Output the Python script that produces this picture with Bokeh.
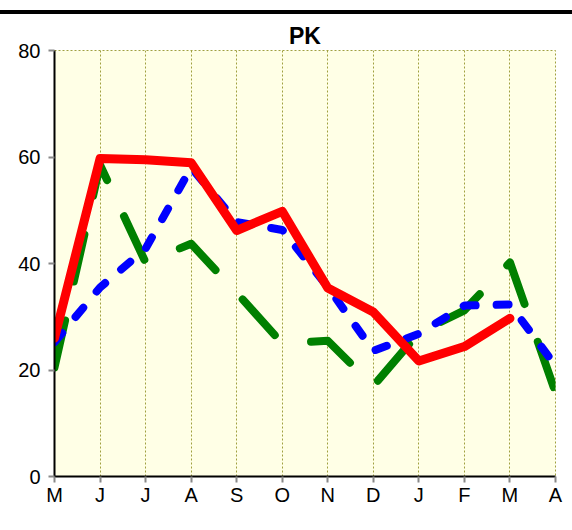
from bokeh.plotting import figure
from bokeh.layouts import column
from bokeh.models import Div, FixedTicker, Range1d
from bokeh.embed import file_html
from bokeh.resources import INLINE

months = ["M", "J", "J", "A", "S", "O", "N", "D", "J", "F", "M", "A"]
x_pos = list(range(len(months)))

green_vals = [20.5, 58.5, 40.2, 43.7, 34.5, 25.0, 25.5, 17.0, 27.0, 31.2, 40.2, 15.8]
blue_vals = [25.2, 35.5, 42.8, 58.0, 47.8, 46.3, 35.6, 23.6, 26.8, 32.1, 32.3, 20.8]
red_vals = [26.0, 59.7, 59.5, 58.9, 46.2, 49.8, 35.4, 30.9, 21.7, 24.4, 29.7]

y_ticks = [0, 20, 40, 60, 80]

FONT = "Liberation Sans"

p = figure(frame_width=501, frame_height=426, output_backend="svg",
           toolbar_location=None, title="PK",
           x_range=Range1d(0, 11), y_range=Range1d(0, 80),
           min_border_left=54, min_border_right=8, min_border_top=26,
           min_border_bottom=30)

p.title.align = "center"
p.title.text_font = "Liberation Sans"
p.title.text_font_size = "23px"
p.title.text_font_style = "bold"
p.title.text_color = "black"
p.title.offset = -8
p.title.standoff = 4

p.background_fill_color = "#FFFFE6"
p.border_fill_color = "white"
p.outline_line_color = "#A0A040"
p.outline_line_dash = "2 2"
p.outline_line_width = 1

p.ygrid.visible = False
p.xgrid.ticker = FixedTicker(ticks=x_pos)
p.xgrid.grid_line_color = "#A0A040"
p.xgrid.grid_line_dash = "2 2"
p.xgrid.grid_line_width = 1

p.xaxis.ticker = FixedTicker(ticks=x_pos)
p.xaxis.major_label_overrides = {i: m for i, m in enumerate(months)}
p.yaxis.ticker = FixedTicker(ticks=y_ticks)
p.yaxis.major_label_overrides = {v: str(v) for v in y_ticks}

for ax in (p.xaxis, p.yaxis):
    ax.axis_line_color = "black"
    ax.axis_line_width = 2
    ax.major_tick_line_color = "#888888"
    ax.major_tick_line_width = 2
    ax.major_tick_in = 0
    ax.major_tick_out = 6
    ax.minor_tick_line_color = None
    ax.major_label_text_font = FONT
    ax.major_label_text_font_size = "20px"
    ax.major_label_text_color = "black"
p.xaxis.major_label_standoff = 1
p.yaxis.major_label_standoff = 8

p.line(x_pos, green_vals, line_color="#008000", line_width=8,
       line_dash="48 40", line_cap="round", line_join="round")
p.line(x_pos, blue_vals, line_color="#0000FF", line_width=8,
       line_dash="12 21", line_cap="round", line_join="round")
p.line(list(range(len(red_vals))), red_vals, line_color="#FF0000", line_width=9,
       line_cap="round", line_join="round")

bar = Div(text='<div style="position:relative;top:-3px;left:-8px;width:580px;'
               'height:4px;background-color:black;border-radius:0;"></div>',
          width=556, height=8)

layout = column(bar, p, spacing=0)

open("out.html", "w").write(file_html(layout, INLINE))
